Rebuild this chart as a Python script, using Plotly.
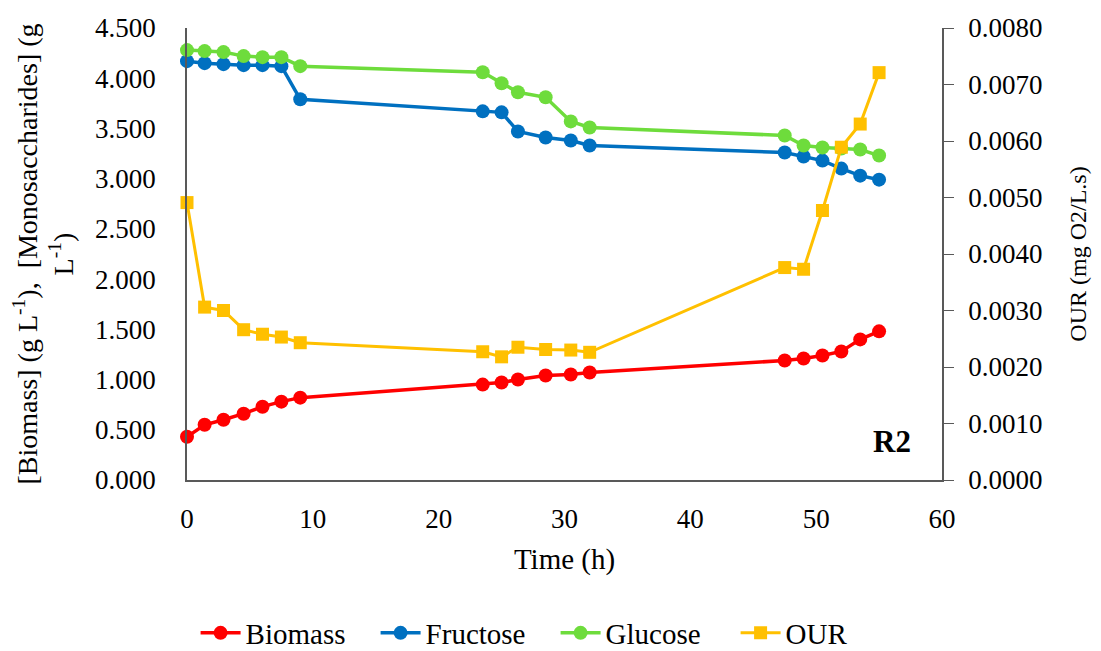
import plotly.graph_objects as go

time_h = [0, 1.4, 2.9, 4.5, 6, 7.5, 9, 23.5, 25, 26.3, 28.5, 30.5, 32, 47.5, 49, 50.5, 52, 53.5, 55]
biomass = [0.43, 0.55, 0.60, 0.66, 0.73, 0.78, 0.82, 0.95, 0.97, 1.00, 1.04, 1.05, 1.07, 1.19, 1.21, 1.24, 1.28, 1.40, 1.48]
fructose = [4.17, 4.15, 4.14, 4.13, 4.13, 4.12, 3.79, 3.67, 3.66, 3.47, 3.41, 3.38, 3.33, 3.26, 3.22, 3.18, 3.10, 3.03, 2.99]
glucose = [4.28, 4.27, 4.26, 4.22, 4.21, 4.21, 4.12, 4.06, 3.95, 3.86, 3.81, 3.57, 3.51, 3.43, 3.33, 3.31, 3.30, 3.29, 3.23]
our = [0.00491, 0.00306, 0.00300, 0.00266, 0.00258, 0.00253, 0.00243, 0.00227, 0.00218, 0.00235, 0.00231, 0.00230, 0.00226,
       0.00376, 0.00373, 0.00477, 0.00589, 0.00630, 0.00721]

FONT = "'Liberation Serif', 'Times New Roman', serif"
AXIS_COLOR = "#595959"
CLEAR = "rgba(0,0,0,0)"

fig = go.Figure()
series = [("Biomass", biomass, "#FF0000"), ("Fructose", fructose, "#0070C0"), ("Glucose", glucose, "#6EDC3C")]
for name, vals, col in series:
    fig.add_trace(go.Scatter(x=time_h, y=vals, name=name, mode="lines+markers",
                             line=dict(color=col, width=3.5),
                             marker=dict(symbol="circle", size=14, color=col),
                             cliponaxis=False))
fig.add_trace(go.Scatter(x=time_h, y=our, name="OUR", mode="lines+markers", yaxis="y2",
                         line=dict(color="#FFC000", width=3),
                         marker=dict(symbol="square", size=13, color="#FFC000"),
                         cliponaxis=False))

# page body has an 8px margin, so the figure is 8px smaller than the window
fig.update_layout(
    width=1093, height=643,
    margin=dict(l=179, r=159, t=20, b=171),
    paper_bgcolor="white", plot_bgcolor="white",
    font=dict(family=FONT, size=27, color="black"),
    xaxis=dict(range=[0, 60], dtick=10, showgrid=False, zeroline=False, automargin=False,
               showline=True, linecolor=AXIS_COLOR, linewidth=1.5,
               ticks="outside", ticklen=14, tickcolor=CLEAR,
               tickfont=dict(family=FONT, size=27),
               title=dict(text="Time (h)", font=dict(family=FONT, size=29), standoff=16)),
    yaxis=dict(range=[0, 4.5], dtick=0.5, tickformat=".3f", showgrid=False, zeroline=False,
               automargin=False, showline=True, linecolor=AXIS_COLOR, linewidth=1.5,
               ticks="outside", ticklen=24, tickcolor=CLEAR,
               tickfont=dict(family=FONT, size=27),
               title=dict(text="[Biomass] (g L<sup>-1</sup>),  [Monosaccharides] (g<br>L<sup>-1</sup>)",
                          font=dict(family=FONT, size=28), standoff=17)),
    yaxis2=dict(range=[0, 0.008], dtick=0.001, tickformat=".4f", overlaying="y", side="right",
                automargin=False, showgrid=False, zeroline=False, showline=True,
                linecolor=AXIS_COLOR, linewidth=1.5,
                ticks="outside", ticklen=10, tickcolor=AXIS_COLOR, ticklabelstandoff=9,
                tickfont=dict(family=FONT, size=27),
                title=dict(text="OUR (mg O2/L.s)", font=dict(family=FONT, size=24), standoff=28)),
    legend=dict(orientation="h", xref="container", x=0.501, xanchor="center",
                yref="container", y=0.028, yanchor="middle", font=dict(family=FONT, size=29),
                itemwidth=40, traceorder="normal", entrywidth=125, entrywidthmode="pixels"),
    annotations=[dict(text="<b>R2</b>", xref="paper", yref="paper", x=0.934, y=0.086,
                      xanchor="center", yanchor="middle",
                      showarrow=False, font=dict(size=31, family=FONT))],
)

fig.write_html("out.html")
